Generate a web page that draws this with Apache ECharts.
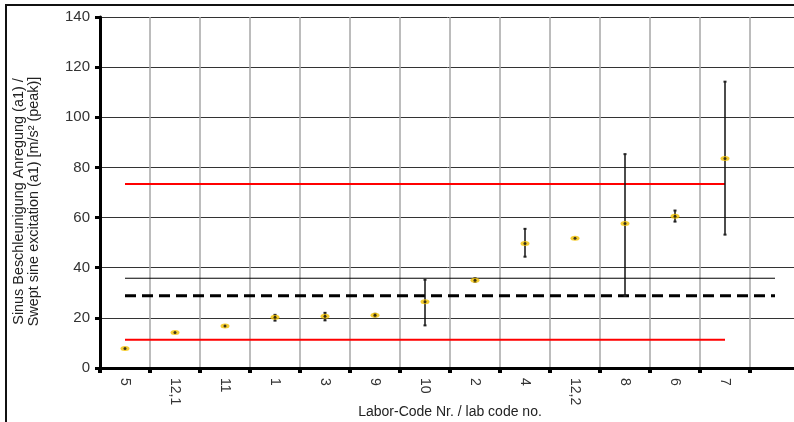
<!DOCTYPE html>
<html>
<head>
<meta charset="utf-8">
<script src="https://cdn.jsdelivr.net/npm/echarts@6/dist/echarts.min.js"></script>
<style>
  html, body { margin: 0; padding: 0; background: #fff; }
</style>
</head>
<body>
<div id="main" style="width:794px;height:422px"></div>
<script>
// Labor-Codes (letzte Kategorie leer)
var labCodes = ['5', '12,1', '11', '1', '3', '9', '10', '2', '4', '12,2', '8', '6', '7', '']
// Mittelwerte a1
var meanValues = [7.8, 14.2, 16.8, 20.2, 20.6, 21.0, 26.4, 35.0, 49.7, 51.8, 57.6, 60.5, 83.6]
// Streubereich unten / oben (null = kein Balken)
var errLow = [null, null, null, 18.9, 19.0, 20.6, 17.0, 34.4, 44.4, null, 28.8, 58.4, 53.2]
var errHigh = [null, null, null, 21.2, 22.0, 21.6, 35.2, 35.8, 55.5, null, 85.3, 62.8, 114.2]
// Bezugslinien
var upperLimit = 73.4
var lowerLimit = 11.3
var refMean = 28.8
var refUpper = 35.8
var yTicks = [0, 20, 40, 60, 80, 100, 120, 140]

var myChart = echarts.init(document.getElementById('main'))

var nLabs = meanValues.length
var redUpperData = []
var redLowerData = []
var meanLineData = []
var upperLineData = []
labCodes.forEach(function (c, i) {
  redUpperData.push(i < nLabs ? upperLimit : null)
  redLowerData.push(i < nLabs ? lowerLimit : null)
  meanLineData.push(refMean)
  upperLineData.push(refUpper)
})
var errData = []
for (var i = 0; i < nLabs; i++) {
  if (errLow[i] !== null) errData.push([i, errLow[i], errHigh[i]])
}

var font = 'Liberation Sans, Arial, sans-serif'

var option = {
  animation: false,
  graphic: [{
    type: 'rect',
    shape: { x: 6, y: 5, width: 820, height: 440 },
    style: { fill: 'none', stroke: '#111', lineWidth: 2 },
    z: 100
  }],
  grid: { left: 100, top: 17, width: 700, height: 351, outerBoundsMode: 'none', containLabel: false },
  xAxis: {
    type: 'category',
    data: labCodes,
    boundaryGap: true,
    name: 'Labor-Code Nr. / lab code no.',
    nameLocation: 'middle',
    nameGap: 37,
    nameMoveOverlap: false,
    nameTextStyle: { color: '#222', fontSize: 14, fontFamily: font },
    axisLine: { lineStyle: { color: '#000', width: 3 } },
    axisTick: { show: true, interval: 0, length: 5, lineStyle: { color: '#000', width: 4 } },
    axisLabel: { interval: 0, rotate: -90, margin: 10, color: '#333', fontSize: 14, fontFamily: font },
    splitLine: { show: true, interval: 0, lineStyle: { color: '#a6a6a6', width: 1.5 } }
  },
  yAxis: {
    type: 'value',
    min: 0,
    max: 140,
    interval: 20,
    name: 'Sinus Beschleunigung Anregung (a1) /\nSwept sine excitation (a1) [m/s² (peak)]',
    nameLocation: 'middle',
    nameRotate: 90,
    nameGap: 58,
    nameMoveOverlap: false,
    nameTextStyle: { color: '#222', fontSize: 14.4, fontFamily: font, lineHeight: 15, padding: [0, 18, 0, 0] },
    axisLine: { show: true, lineStyle: { color: '#000', width: 3 } },
    axisTick: { show: true, length: 5, lineStyle: { color: '#000', width: 3 } },
    axisLabel: {
      margin: 10,
      color: '#333',
      fontSize: 15,
      fontFamily: font,
      formatter: function (v) { return yTicks.indexOf(v) >= 0 ? v : '' }
    },
    splitLine: { show: true, lineStyle: { color: '#333', width: 1 } }
  },
  series: [
    {
      name: 'upper',
      type: 'line',
      data: redUpperData,
      symbol: 'none',
      lineStyle: { color: '#ff0000', width: 2 },
      z: 3
    },
    {
      name: 'lower',
      type: 'line',
      data: redLowerData,
      symbol: 'none',
      lineStyle: { color: '#ff0000', width: 2 },
      z: 3
    },
    {
      name: 'refUpper',
      type: 'line',
      data: upperLineData,
      symbol: 'none',
      lineStyle: { color: '#000', width: 1 },
      z: 3
    },
    {
      name: 'refMean',
      type: 'line',
      data: meanLineData,
      symbol: 'none',
      lineStyle: { color: '#000', width: 3, type: [11, 6] },
      z: 3
    },
    {
      // Fehlerbalken
      type: 'custom',
      data: errData,
      z: 4,
      renderItem: function (params, api) {
        var lo = api.coord([api.value(0), api.value(1)])
        var hi = api.coord([api.value(0), api.value(2)])
        var x = lo[0]
        var cap = 1.5
        var capStyle = { stroke: '#222', lineWidth: 2 }
        return {
          type: 'group',
          children: [
            { type: 'line', shape: { x1: x, y1: lo[1], x2: x, y2: hi[1] }, style: { stroke: '#111', lineWidth: 1.5 } },
            { type: 'line', shape: { x1: x - cap, y1: lo[1], x2: x + cap, y2: lo[1] }, style: capStyle },
            { type: 'line', shape: { x1: x - cap, y1: hi[1], x2: x + cap, y2: hi[1] }, style: capStyle }
          ]
        }
      }
    },
    {
      type: 'scatter',
      data: meanValues,
      symbol: 'circle',
      symbolSize: [9, 5],
      itemStyle: { color: '#f2c200' },
      z: 5
    },
    {
      type: 'scatter',
      data: meanValues,
      symbol: 'circle',
      symbolSize: 3,
      itemStyle: { color: '#111' },
      z: 6
    }
  ]
}
myChart.setOption(option)
</script>
</body>
</html>
